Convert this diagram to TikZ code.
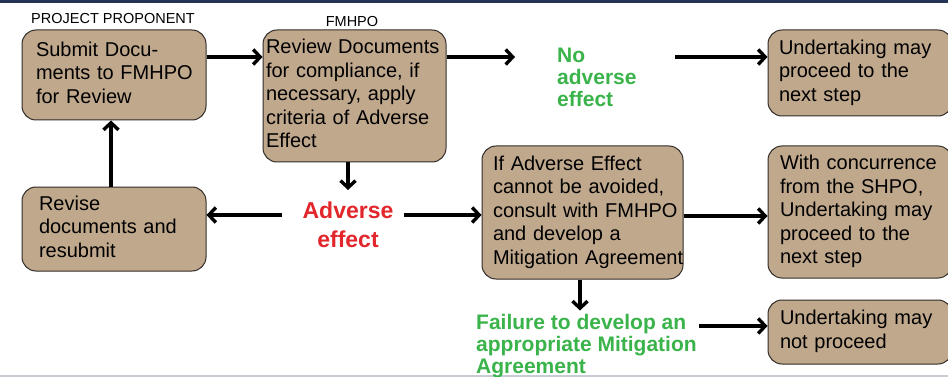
\documentclass[tikz,border=0pt]{standalone}
\usepackage{fontspec}
\setmainfont{Liberation Sans}
\usetikzlibrary{arrows.meta,calc}
\definecolor{boxfill}{RGB}{192,168,141}
\definecolor{boxline}{RGB}{50,45,40}
\definecolor{okgreen}{RGB}{58,180,74}
\definecolor{badred}{RGB}{226,38,43}
\definecolor{topline}{RGB}{35,50,85}
\definecolor{botline}{RGB}{200,205,212}
\newcommand{\txtlines}[1]{\begin{tabular}{@{}l@{}}#1\end{tabular}}
\newcommand{\ctrlines}[1]{\begin{tabular}{@{}c@{}}#1\end{tabular}}
\begin{document}
\begin{tikzpicture}[x=1pt,y=-1pt,
  box/.style={draw=boxline, line width=1pt, fill=boxfill, rounded corners=14pt,
    align=left, inner ysep=0pt, font=\fontsize{20}{23.5}\selectfont},
  head/.style={inner sep=0pt, font=\fontsize{14.5}{17}\selectfont},
  greenlbl/.style={inner sep=0pt, text=okgreen, font=\fontsize{21}{22}\selectfont\bfseries},
  redlbl/.style={inner sep=0pt, text=badred, font=\fontsize{23}{29}\selectfont\bfseries},
  arr/.style={line width=3.4pt, -{Straight Barb[length=7pt,width=15pt]}}
]
\useasboundingbox (0,0) rectangle (948,377);
\fill[white] (0,0) rectangle (948,377);
\draw[topline, line width=2.5pt] (0,1.5) -- (948,1.5);
\draw[botline, line width=2pt] (0,376) -- (948,376);

% headers
\node[head] (pp) at (113,19) {PROJECT PROPONENT};
\node[head] (fm) at (352,22) {FMHPO};

% boxes
\node[box, inner xsep=14pt, text width=156pt, minimum height=90pt] (submit) at (114,75)
  {\txtlines{Submit Docu-\\ments to FMHPO\\for Review}};
\node[box, inner xsep=3pt, text width=177pt, minimum height=132pt] (review) at (354.5,96)
  {\txtlines{Review Documents\\for compliance, if\\necessary, apply\\criteria of Adverse\\Effect}};
\node[box, inner xsep=11pt, text width=162pt, minimum height=86pt] (und1) at (860,73)
  {\txtlines{Undertaking may\\proceed to the\\next step}};
\node[box, inner xsep=17pt, text width=150pt, minimum height=84pt] (revise) at (114,229)
  {\txtlines{Revise\\documents and\\resubmit}};
\node[box, inner xsep=11pt, text width=179pt, minimum height=133pt] (ifadv) at (582.5,212.5)
  {\txtlines{If Adverse Effect\\cannot be avoided,\\consult with FMHPO\\and develop a\\Mitigation Agreement}};
\node[box, inner xsep=12pt, text width=160pt, minimum height=132pt] (conc) at (860,212)
  {\txtlines{With concurrence\\from the SHPO,\\Undertaking may\\proceed to the\\next step}};
\node[box, inner xsep=12pt, text width=160pt, minimum height=64pt] (notp) at (860,332)
  {\txtlines{Undertaking may\\not proceed}};

% outcome labels
\node[greenlbl, anchor=north west] (noadv) at (557,47) {\txtlines{No\\adverse\\effect}};
\node[redlbl, anchor=north] (adv) at (348,198) {\ctrlines{Adverse\\effect}};
\node[greenlbl, anchor=north west] (fail) at (476,313.5)
  {\txtlines{Failure to develop an\\appropriate Mitigation\\Agreement}};

% row / column guides
\coordinate (r1) at (0,57);
\coordinate (r2) at (0,215);
\coordinate (r3) at (0,216);
\coordinate (r4) at (0,326);
\coordinate (c1) at (111,0);
\coordinate (c2) at (580,0);

% connectors
\draw[arr] (submit.east |- r1) -- (review.west |- r1);
\draw[arr] (review.east |- r1) -- ($(noadv.west |- r1)+(-42,0)$);
\draw[arr] ($(noadv.east |- r1)+(38,0)$) -- (und1.west |- r1);
\draw[arr] (adv.north |- review.south) -- ($(adv.north)+(0,-8)$);
\draw[arr] ($(adv.west |- r2)+(-20,0)$) -- (revise.east |- r2);
\draw[arr] ($(adv.east |- r2)+(10,0)$) -- (ifadv.west |- r2);
\draw[arr] (c1 |- revise.north) -- (c1 |- submit.south);
\draw[arr] (ifadv.east |- r3) -- (conc.west |- r3);
\draw[arr] (c2 |- ifadv.south) -- ($(c2 |- fail.north)+(0,-3)$);
\draw[arr] ($(fail.east |- r4)+(2,0)$) -- (notp.west |- r4);
\end{tikzpicture}
\end{document}
